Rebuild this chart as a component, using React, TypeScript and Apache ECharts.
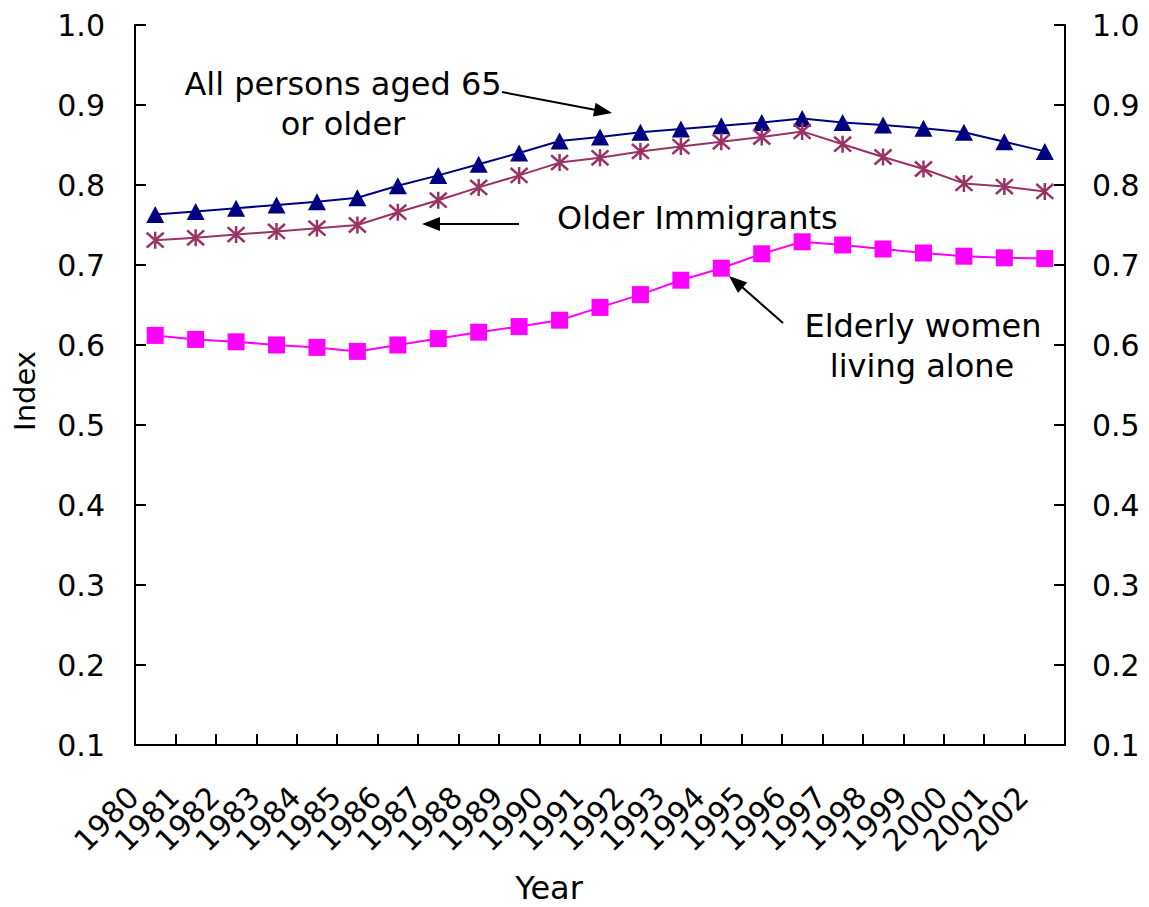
import React, { useEffect, useRef } from "react";
import * as echarts from "echarts";

const years = ["1980","1981","1982","1983","1984","1985","1986","1987","1988","1989","1990","1991","1992","1993","1994","1995","1996","1997","1998","1999","2000","2001","2002"];
const allPersons = [0.763, 0.767, 0.771, 0.775, 0.779, 0.784, 0.799, 0.812, 0.826, 0.840, 0.855, 0.860, 0.866, 0.870, 0.874, 0.878, 0.883, 0.878, 0.875, 0.871, 0.866, 0.854, 0.842];
const olderImmigrants = [0.731, 0.734, 0.738, 0.742, 0.746, 0.750, 0.766, 0.781, 0.797, 0.812, 0.828, 0.834, 0.842, 0.848, 0.854, 0.860, 0.867, 0.851, 0.835, 0.820, 0.802, 0.798, 0.792];
const elderlyWomen = [0.612, 0.607, 0.604, 0.600, 0.597, 0.592, 0.600, 0.608, 0.616, 0.623, 0.631, 0.647, 0.663, 0.681, 0.696, 0.714, 0.729, 0.725, 0.720, 0.715, 0.711, 0.709, 0.708];
const yMin = 0.1;
const yMax = 1.0;
const yStep = 0.1;

const FONT = "'DejaVu Sans', 'Liberation Sans', Arial, sans-serif";
const BLACK = "#000";

export default function App() {
  const ref = useRef<HTMLDivElement>(null);
  useEffect(() => {
    if (!ref.current) return;
    const chart = echarts.init(ref.current, null, { renderer: "svg" });
    const yAxisBase = {
      type: "value",
      min: yMin,
      max: yMax,
      interval: yStep,
      splitLine: { show: false },
      axisLine: { show: true, lineStyle: { color: BLACK, width: 2 } },
      axisTick: { show: true, inside: true, length: 11, lineStyle: { color: BLACK, width: 2 } },
    };
    const textStyle = { fontFamily: FONT, fontSize: 32, fill: "#000" };
    chart.setOption({
      animation: false,
      backgroundColor: "#fff",
      grid: { left: 135, right: 84, top: 25, bottom: 162, containLabel: false },
      xAxis: {
        type: "category",
        data: years,
        boundaryGap: true,
        axisLine: { lineStyle: { color: BLACK, width: 2 } },
        axisTick: { show: true, inside: true, length: 11, alignWithLabel: false, lineStyle: { color: BLACK, width: 2 } },
        axisLabel: {
          interval: 0,
          rotate: 45,
          margin: 25,
          padding: [0, 31, 0, 0],
          color: "#000",
          fontFamily: FONT,
          fontSize: 30,
        },
        splitLine: { show: false },
      },
      yAxis: [
        {
          ...yAxisBase,
          position: "left",
          axisLabel: { margin: 30, color: "#000", fontFamily: FONT, fontSize: 30, formatter: (v: number) => v.toFixed(1) },
        },
        {
          ...yAxisBase,
          position: "right",
          axisLabel: { margin: 27, color: "#000", fontFamily: FONT, fontSize: 30, formatter: (v: number) => v.toFixed(1) },
        },
      ],
      series: [
        {
          name: "All persons aged 65 or older",
          type: "line",
          data: allPersons,
          yAxisIndex: 0,
          symbol: "triangle",
          symbolSize: [18, 17],
          showAllSymbol: true,
          lineStyle: { color: "#000080", width: 2 },
          itemStyle: { color: "#000080" },
        },
        {
          name: "Older Immigrants",
          type: "line",
          data: olderImmigrants,
          yAxisIndex: 0,
          symbol: "path://M0,0L14,14M14,0L0,14M7,-1L7,15",
          symbolSize: 17,
          showAllSymbol: true,
          lineStyle: { color: "#993366", width: 2 },
          itemStyle: { color: "none", borderColor: "#993366", borderWidth: 2.5 },
        },
        {
          name: "Elderly women living alone",
          type: "line",
          data: elderlyWomen,
          yAxisIndex: 0,
          symbol: "rect",
          symbolSize: 17,
          showAllSymbol: true,
          lineStyle: { color: "#FF00FF", width: 2 },
          itemStyle: { color: "#FF00FF" },
        },
      ],
      graphic: [
        { type: "text", x: 343, y: 84, style: { ...textStyle, text: "All persons aged 65", textAlign: "center", textVerticalAlign: "middle" } },
        { type: "text", x: 343, y: 124, style: { ...textStyle, text: "or older", textAlign: "center", textVerticalAlign: "middle" } },
        { type: "text", x: 557, y: 218, style: { ...textStyle, text: "Older Immigrants", textAlign: "left", textVerticalAlign: "middle" } },
        { type: "text", x: 923, y: 326, style: { ...textStyle, text: "Elderly women", textAlign: "center", textVerticalAlign: "middle" } },
        { type: "text", x: 922, y: 366, style: { ...textStyle, text: "living alone", textAlign: "center", textVerticalAlign: "middle" } },
        { type: "text", x: 549, y: 888, style: { fontFamily: FONT, fontSize: 32, fill: "#000", text: "Year", textAlign: "center", textVerticalAlign: "middle" } },
        { type: "text", x: 25, y: 391, rotation: Math.PI / 2, style: { fontFamily: FONT, fontSize: 29, fill: "#000", text: "Index", textAlign: "center", textVerticalAlign: "middle" } },
        { type: "line", shape: { x1: 502, y1: 92, x2: 596, y2: 110 }, style: { stroke: "#000", lineWidth: 2 } },
        { type: "polygon", shape: { points: [[612, 113], [593, 116.5], [595.6, 102.7]] }, style: { fill: "#000" } },
        { type: "line", shape: { x1: 519, y1: 224, x2: 438, y2: 224 }, style: { stroke: "#000", lineWidth: 2 } },
        { type: "polygon", shape: { points: [[422, 224], [440, 217], [440, 231]] }, style: { fill: "#000" } },
        { type: "line", shape: { x1: 783, y1: 323, x2: 742, y2: 287 }, style: { stroke: "#000", lineWidth: 2 } },
        { type: "polygon", shape: { points: [[729, 276], [747.2, 282.5], [738, 293.1]] }, style: { fill: "#000" } },
      ],
    });
    return () => chart.dispose();
  }, []);
  return (
    <div
      ref={ref}
      style={{ position: "fixed", left: 0, top: 0, width: 1149, height: 907, background: "#fff" }}
    />
  );
}
